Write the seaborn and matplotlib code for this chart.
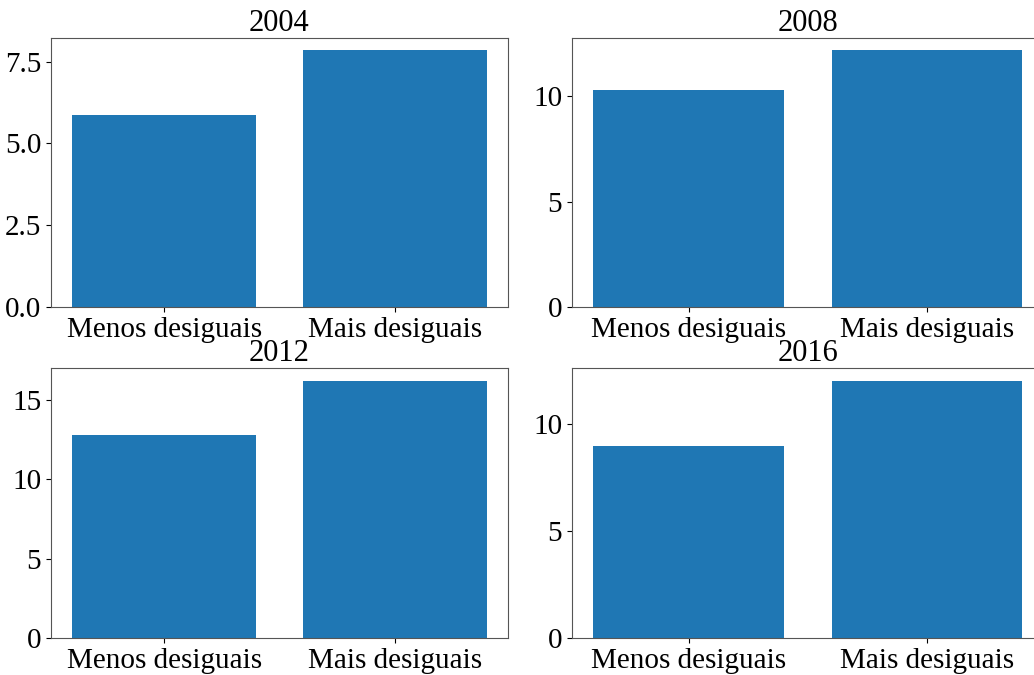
import matplotlib
matplotlib.use("Agg")
import matplotlib.pyplot as plt
import seaborn as sns
import pandas as pd

categories = ["Menos desiguais", "Mais desiguais"]
years = ["2004", "2008", "2012", "2016"]
values_2004 = [5.86, 7.84]
values_2008 = [10.30, 12.16]
values_2012 = [12.80, 16.17]
values_2016 = [9.00, 12.02]
all_values = [values_2004, values_2008, values_2012, values_2016]

plt.rcParams["font.family"] = ["Liberation Serif", "DejaVu Serif"]
plt.rcParams["font.size"] = 21

fig = plt.figure(figsize=(10.34, 6.75), dpi=100)
positions = [
    [0.0493, 0.5452, 0.442, 0.399],
    [0.553, 0.5452, 0.4564, 0.399],
    [0.0493, 0.0548, 0.442, 0.3996],
    [0.553, 0.0548, 0.4564, 0.3996],
]

for year, vals, pos in zip(years, all_values, positions):
    ax = fig.add_axes(pos)
    df = pd.DataFrame({"grupo": categories, "valor": vals})
    sns.barplot(data=df, x="grupo", y="valor", color="#1f77b4",
                saturation=1, width=0.8, ax=ax)
    ax.set_xlim(-0.49, 1.49)
    ax.set_xlabel("")
    ax.set_ylabel("")
    ax.set_title(year, fontsize=22, pad=5)
    ax.tick_params(labelsize=21)
    for s in ax.spines.values():
        s.set_color("#555555")

fig.savefig("out.png", dpi=100)
